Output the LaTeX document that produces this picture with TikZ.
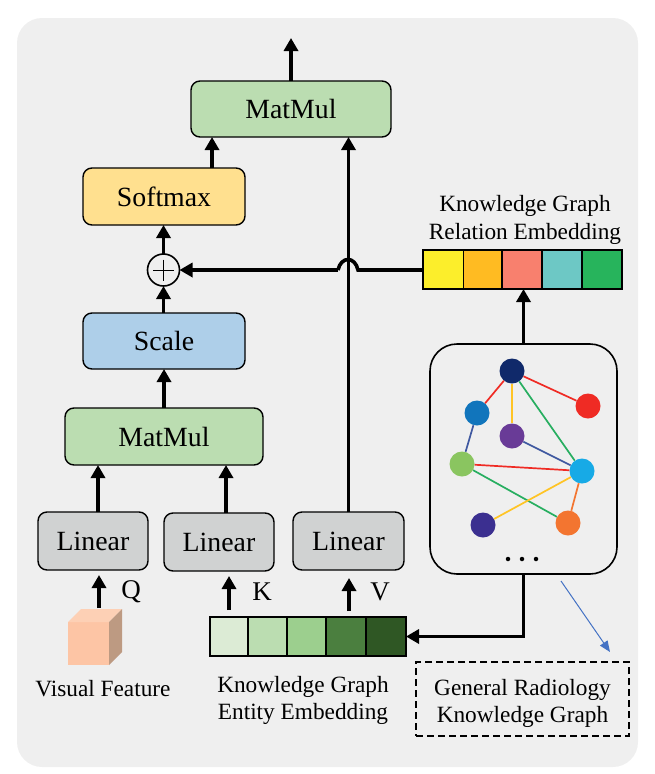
\documentclass[tikz,border=0pt]{standalone}
\usepackage{fontspec}
\setmainfont{Liberation Serif}
\usetikzlibrary{arrows.meta}
\tikzset{
    block/.style={draw=black, line width=1.4pt, rounded corners=9pt, outer sep=0pt, inner sep=0pt, font=\fontsize{27.8}{30}\selectfont},
    cell/.style={draw=black, line width=1.4pt, outer sep=0pt, inner sep=0pt, minimum height=39pt},
    gnode/.style={circle, fill=#1, inner sep=0pt, minimum size=25pt},
    gedge/.style={line width=1.7pt, #1},
    flow/.style={->, line width=3.6pt},
    caption/.style={font=\fontsize{23.3}{27.5}\selectfont, align=center, inner sep=0pt},
    letter/.style={font=\fontsize{27}{28}\selectfont, inner sep=0pt}
}
\begin{document}
\begin{tikzpicture}[x=1pt, y=-1pt, >={Triangle[width=14pt,length=13pt]}]
        % --- COLOURS ---
        \definecolor{panel}{RGB}{239, 239, 239}
        \definecolor{matGreen}{RGB}{187, 221, 177}
        \definecolor{softYellow}{RGB}{255, 224, 143}
        \definecolor{scaleBlue}{RGB}{174, 207, 233}
        \definecolor{linGray}{RGB}{208, 210, 210}
        \definecolor{edgeBlue}{RGB}{63, 88, 160}
        \definecolor{edgeRed}{RGB}{239, 43, 36}
        \definecolor{edgeGreen}{RGB}{39, 174, 96}
        \definecolor{edgeYellow}{RGB}{255, 196, 37}
        \definecolor{edgeOrange}{RGB}{243, 117, 48}
        \definecolor{dotNavy}{RGB}{16, 41, 106}
        \definecolor{dotBlue}{RGB}{17, 117, 188}
        \definecolor{dotPurple}{RGB}{105, 59, 151}
        \definecolor{dotLime}{RGB}{138, 197, 96}
        \definecolor{dotCyan}{RGB}{23, 170, 230}
        \definecolor{dotIndigo}{RGB}{59, 47, 144}
        \definecolor{cubeFront}{RGB}{253, 197, 165}
        \definecolor{cubeTopFace}{RGB}{253, 208, 181}
        \definecolor{cubeSide}{RGB}{189, 154, 130}
        \definecolor{linkBlue}{RGB}{68, 114, 196}

        \useasboundingbox (0,0) rectangle (654,774);

        % Background panel
        \fill[panel, rounded corners=25pt] (17,18) rectangle (638,767);

        % --- BLOCKS ---
        \node[block, fill=matGreen, minimum width=200pt, minimum height=56pt] (matTop) at (291,109) {MatMul};
        \node[block, fill=softYellow, minimum width=162pt, minimum height=57pt] (softmax) at (164,196.5) {Softmax};
        \node[circle, draw=black, line width=1.6pt, fill=panel, minimum size=32pt, inner sep=0pt, outer sep=0pt] (plus) at (163.5,270) {};
        \draw[line width=1pt] (plus.center) +(-10.5,0) -- +(10.5,0) +(0,-10.5) -- +(0,10.5);
        \node[block, fill=scaleBlue, minimum width=162pt, minimum height=56pt] (scale) at (164,341) {Scale};
        \node[block, fill=matGreen, minimum width=198pt, minimum height=57pt] (matLow) at (164,436.5) {MatMul};
        \node[block, fill=linGray, minimum width=110pt, minimum height=58pt] (linQ) at (93,541) {Linear};
        \node[block, fill=linGray, minimum width=110pt, minimum height=58pt] (linK) at (219,542) {Linear};
        \node[block, fill=linGray, minimum width=111pt, minimum height=58pt] (linV) at (348.5,541) {Linear};

        % --- EMBEDDINGS ---
        \foreach \i/\cx/\w/\col in {1/443.25/40.5/FCEE2B, 2/482.75/38.5/FFBB22, 3/522/40/F8806E, 4/562/40/6DC8C5, 5/602/40/27B45C} {
            \definecolor{tmpc}{HTML}{\col}
            \node[cell, fill=tmpc, minimum width=\w pt] (rel\i) at (\cx,269.5) {};
        }
        \foreach \i/\cx/\w/\col in {1/229/38/DCEBD5, 2/267.5/39/BBDDB1, 3/306.5/39/9CCF8E, 4/346/40/4B7F3F, 5/386/40/2F5724} {
            \definecolor{tmpc}{HTML}{\col}
            \node[cell, fill=tmpc, minimum width=\w pt] (ent\i) at (\cx,636.5) {};
        }

        % Graph box
        \node[draw=black, line width=1.6pt, rounded corners=27pt, minimum width=187pt, minimum height=230pt, outer sep=0pt] (graph) at (523.5,459) {};
        \node[gnode=black, minimum size=4.5pt] (dotA) at (508,559) {};
        \node[gnode=black, minimum size=4.5pt] (dotB) at (522,559) {};
        \node[gnode=black, minimum size=4.5pt] (dotC) at (536,559) {};

        % --- GRAPH ---
        \node[gnode=dotNavy] (navy) at (512,371) {};
        \node[gnode=dotBlue] (blue) at (477,413) {};
        \node[gnode=edgeRed] (red) at (588,406) {};
        \node[gnode=dotPurple] (purple) at (512,436) {};
        \node[gnode=dotLime] (lime) at (462,464) {};
        \node[gnode=dotCyan] (cyan) at (582,471) {};
        \node[gnode=dotIndigo] (indigo) at (483,525) {};
        \node[gnode=edgeOrange] (orange) at (568,523) {};

        \draw[gedge=edgeRed] (navy) -- (blue);
        \draw[gedge=edgeRed] (navy) -- (red);
        \draw[gedge=edgeYellow] (navy) -- (purple);
        \draw[gedge=edgeGreen] (navy) -- (cyan);
        \draw[gedge=edgeBlue] (blue) -- (lime);
        \draw[gedge=edgeBlue] (purple) -- (cyan);
        \draw[gedge=edgeRed] (lime) -- (cyan);
        \draw[gedge=edgeGreen] (lime) -- (orange);
        \draw[gedge=edgeYellow] (indigo) -- (cyan);
        \draw[gedge=edgeOrange] (cyan) -- (orange);

        % --- VISUAL FEATURE CUBE ---
        \fill[cubeFront] (68,622) rectangle (109,665);
        \fill[cubeTopFace] (68,622) -- (81,609) -- (122,609) -- (109,622) -- cycle;
        \fill[cubeSide] (109,622) -- (122,609) -- (122,652) -- (109,665) -- cycle;

        % --- TEXTS ---
        \node[caption] (relText) at (525,220) {Knowledge Graph\\Relation Embedding};
        \node[caption] (entText) at (303,700.5) {Knowledge Graph\\Entity Embedding};
        \node[caption] (visText) at (103,688.5) {Visual Feature};
        \node[draw=black, line width=1.5pt, dash pattern=on 7pt off 4pt, minimum width=213pt, minimum height=74pt, outer sep=0pt] (general) at (522.5,699) {};
        \node[caption] (generalText) at (522.5,703.5) {General Radiology\\Knowledge Graph};
        \node[letter] (labQ) at (131,592) {Q};
        \node[letter] (labK) at (262,592) {K};
        \node[letter] (labV) at (380,592) {V};

        % --- CONNECTORS ---
        \coordinate (outTop) at (291,38);
        \coordinate (softOut) at (212,168);
        \coordinate (qOut) at (98,512);
        \coordinate (kOut) at (226,513);
        \coordinate (cubeOut) at (99,608);
        \coordinate (qIn) at (99,575);
        \coordinate (entK) at (229,610);
        \coordinate (kIn) at (229,576);
        \coordinate (entV) at (349,611);
        \coordinate (vIn) at (349,578);

        \draw[flow] (matTop.north) -- (outTop);
        \draw[flow] (softOut) -- (softOut |- matTop.south);
        \draw[flow] (plus.north) -- (plus.north |- softmax.south);
        \draw[flow] (plus.south |- scale.north) -- (plus.south);
        \draw[flow] (matLow.north) -- (scale.south);
        \draw[flow] (qOut) -- (qOut |- matLow.south);
        \draw[flow] (kOut) -- (kOut |- matLow.south);
        \draw[flow] (linV.north) -- (linV.north |- matTop.south);
        \draw[flow] (cubeOut) -- (qIn);
        \draw[flow] (entK) -- (kIn);
        \draw[flow] (entV) -- (vIn);

        % Relation embedding to the adder, hopping over the V line
        \coordinate (hopR) at (358,270);
        \coordinate (hopL) at (338,270);
        \draw[line width=3.6pt] (rel1.west |- hopR) -- (hopR) .. controls (355,256) and (341,256) .. (hopL);
        \draw[flow] (hopL) -- (plus.east);

        \draw[flow] (graph.north) -- (graph.north |- rel3.south);
        \draw[flow] (graph.south) -- (graph.south |- ent5.east) -- (ent5.east);

        % Thin link to the general graph
        \coordinate (linkStart) at (561,581);
        \coordinate (linkEnd) at (610,652);
        \draw[->, line width=1pt, linkBlue, >={Triangle[width=9pt,length=11pt]}] (linkStart) -- (linkEnd);
\end{tikzpicture}
\end{document}
